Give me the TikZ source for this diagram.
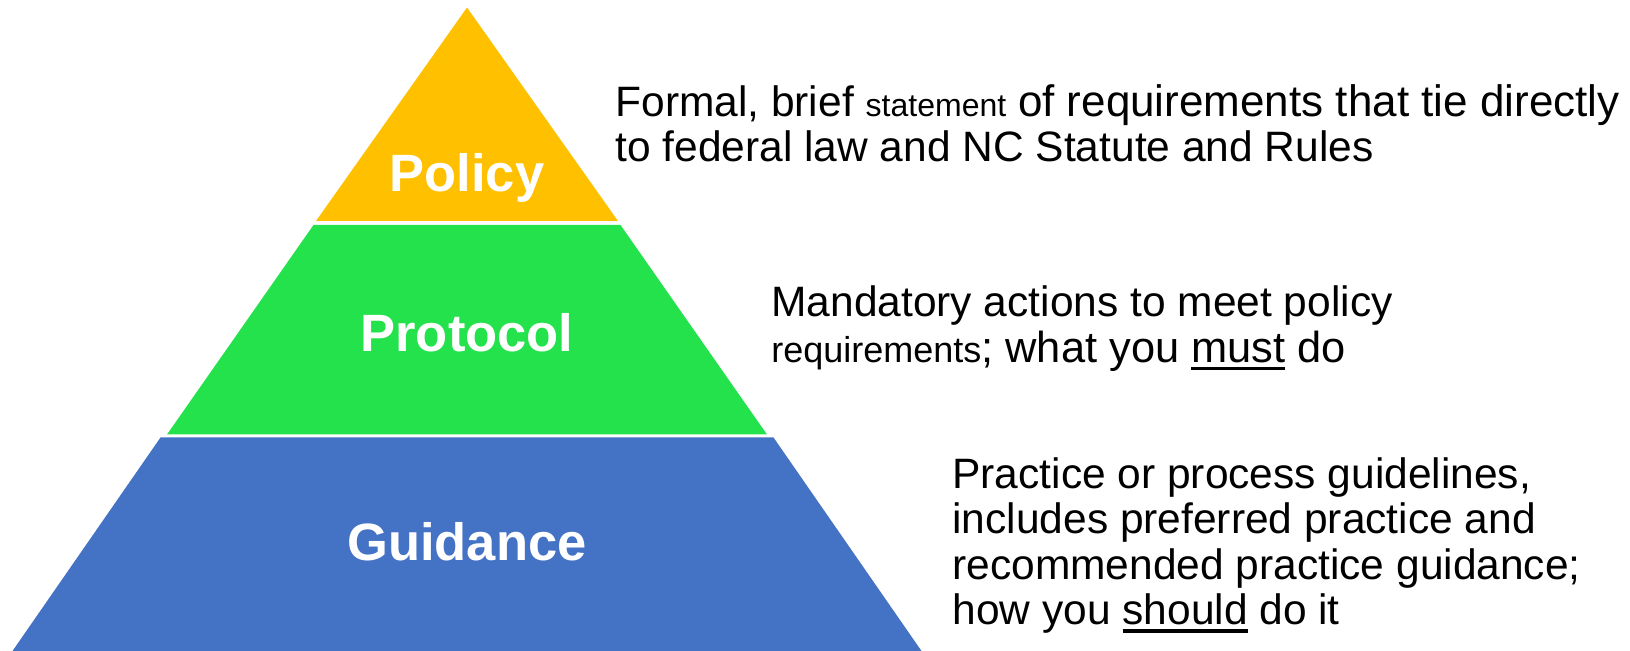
\documentclass[tikz,border=0pt]{standalone}
\usepackage{fontspec}
\setmainfont{Liberation Sans}
\definecolor{policyyellow}{HTML}{FFC000}
\definecolor{protocolgreen}{HTML}{24E24C}
\definecolor{guidanceblue}{HTML}{4472C4}
\newcommand{\ulword}[1]{\setbox0\hbox{#1}\rlap{\rule[-3.9pt]{\wd0}{1.75pt}}\box0\relax}
\newcommand{\resized}[2]{{\fontsize{#1}{22.75pt}\selectfont #2}}
\begin{document}
\begin{tikzpicture}[x=0.5pt,y=-0.5pt,
    tierlabel/.style={text=white,anchor=base,inner sep=0pt,
      font=\fontsize{26.25pt}{30pt}\selectfont\bfseries},
    tierdesc/.style={anchor=base west,align=left,inner sep=0pt,
      font=\fontsize{21.25pt}{22.75pt}\selectfont}]
    \useasboundingbox (0,0) rectangle (1630,651);
    % pyramid bands
    \fill[policyyellow] (467,7.5) -- (618,221) -- (316,221) -- cycle;
    \fill[protocolgreen] (313.5,225) -- (620.5,225) -- (767,434.5) -- (167,434.5) -- cycle;
    \fill[guidanceblue] (160.5,437.5) -- (773.5,437.5) -- (921.5,651) -- (12.5,651) -- cycle;
    % tier names
    \node[tierlabel] (policy) at (467,192) {Policy};
    \node[tierlabel] (protocol) at (467,352) {Protocol};
    \node[tierlabel] (guidance) at (467,561) {Guidance};
    % descriptions (anchored at the last line)
    \node[tierdesc] (policydesc) at (615,162) {Formal, brief \resized{16pt}{statement} \resized{22pt}{of requirements that tie directly}\\to federal law and NC Statute and Rules};
    \node[tierdesc] (protocoldesc) at (771,362.5) {Mandatory actions to meet policy\\\resized{18pt}{requirements}\resized{21.7pt}{; what you \ulword{must} do}};
    \node[tierdesc] (guidancedesc) at (952,625) {Practice or process guidelines,\\includes preferred practice and\\recommended practice guidance;\\how you \ulword{should} do it};
\end{tikzpicture}
\end{document}
